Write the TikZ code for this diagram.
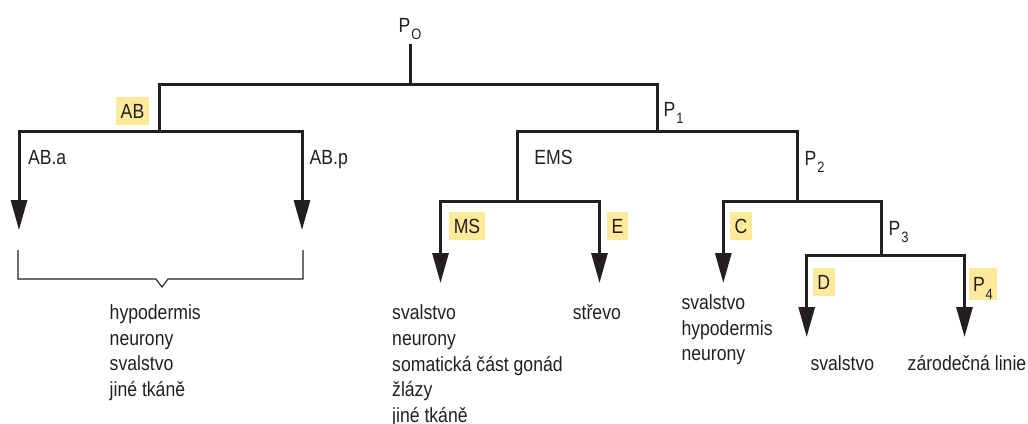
\documentclass[tikz,border=0pt]{standalone}
\usepackage{fontspec}
\setmainfont[FakeStretch=0.86]{Liberation Sans}
\usetikzlibrary{arrows.meta}
\definecolor{ink}{HTML}{231F20}
\definecolor{hl}{HTML}{FFE99B}

\tikzset{
  tree/.style={draw=ink, line width=3pt, line join=miter},
  tip/.tip={Triangle[width=16pt,length=30pt]},
  arrboth/.style={tree, tip-tip},
  arrstart/.style={tree, tip-},
  lbl/.style={anchor=base west, inner sep=0pt, text=ink},
  tag/.style={fill=hl, text=ink, inner xsep=4.5pt, inner ysep=0pt,
    text height=14.7pt, text depth=0pt, minimum height=28pt},
  brace/.style={draw=ink, line width=1.1pt, line join=miter},
}
% P with a lowered index
\newcommand\psub[1]{P\kern0.8pt\raisebox{-7.5pt}{\fontsize{15}{15}\selectfont #1}}

\begin{document}
\begin{tikzpicture}[x=1pt, y=-1pt, font=\fontsize{20.5}{25.8}\selectfont]
\useasboundingbox (0,0) rectangle (1028,423);

% junctions of the lineage tree
\coordinate (top) at (410,44);
\coordinate (root) at (410,84.3);
\coordinate (ab) at (159,84.3);
\coordinate (abj) at (159,131);
\coordinate (p1) at (657,84.3);
\coordinate (p1j) at (657,131.5);
\coordinate (aba) at (19,131);
\coordinate (aba-end) at (19,230);
\coordinate (abp) at (302,131);
\coordinate (abp-end) at (302,230);
\coordinate (ems) at (517,131.5);
\coordinate (emsj) at (517,201.7);
\coordinate (p2) at (797,131.5);
\coordinate (p2j) at (797,201.7);
\coordinate (ms) at (440.5,201.7);
\coordinate (ms-end) at (440.5,283);
\coordinate (e) at (599.5,201.7);
\coordinate (e-end) at (599.5,283);
\coordinate (c) at (723.3,201.7);
\coordinate (c-end) at (723.3,283);
\coordinate (p3) at (881.5,201.7);
\coordinate (p3j) at (881.5,255);
\coordinate (d) at (806.7,255);
\coordinate (d-end) at (806.7,337);
\coordinate (p4) at (964.5,255);
\coordinate (p4-end) at (964.5,337);

% branches
\draw[tree] (top) -- (root);
\draw[tree] (abj) -- (ab) -- (p1) -- (p1j);
\draw[arrboth] (aba-end) -- (aba) -- (abp) -- (abp-end);
\draw[tree] (emsj) -- (ems) -- (p2) -- (p2j);
\draw[arrboth] (ms-end) -- (ms) -- (e) -- (e-end);
\draw[arrstart] (c-end) -- (c) -- (p3) -- (p3j);
\draw[arrboth] (d-end) -- (d) -- (p4) -- (p4-end);

% bracket joining the two AB daughters
\coordinate (bl) at (18,250);
\coordinate (br) at (303,250);
\draw[brace] (bl) -- (18,279) -- (156,279) -- (162,287) -- (168,279) -- (303,279) -- (br);

% cell names
\node[lbl] (lp0) at (398.5,32) {\psub{O}};
\node[lbl] (lp1) at (663.5,116) {\psub{1}};
\node[lbl] (lp2) at (804.5,165) {\psub{2}};
\node[lbl] (lp3) at (888.5,235) {\psub{3}};
\node[lbl] (laba) at (27.8,164.3) {AB.a};
\node[lbl] (labp) at (309.5,164.3) {AB.p};
\node[lbl] (lems) at (534.2,164.3) {EMS};

\node[tag] (tab) at (132.5,110.8) {AB};
\node[tag] (tms) at (467,226.2) {MS};
\node[tag] (te) at (617.5,226.2) {E};
\node[tag] (tc) at (741,226.2) {C};
\node[tag] (td) at (823.8,282) {D};
\node[tag, minimum height=32pt] (tp4) at (983,284.3) {\psub{4}};

% tissues derived from each lineage
\foreach \t [count=\i] in {hypodermis, neurony, svalstvo, jiné tkáně}
  \node[lbl] (fab-\i) at (109.5,{319.3+25.8*(\i-1)}) {\t};
\foreach \t [count=\i] in {svalstvo, neurony, somatická část gonád, žlázy, jiné tkáně}
  \node[lbl] (fms-\i) at (392,{319.8+25.6*(\i-1)}) {\t};
\node[lbl] (fe) at (572.7,319.3) {střevo};
\foreach \t [count=\i] in {svalstvo, hypodermis, neurony}
  \node[lbl] (fc-\i) at (681.3,{309.3+25.8*(\i-1)}) {\t};
\node[lbl] (fd) at (810.3,370.7) {svalstvo};
\node[lbl] (fp4) at (907.5,370.7) {zárodečná linie};
\end{tikzpicture}
\end{document}
